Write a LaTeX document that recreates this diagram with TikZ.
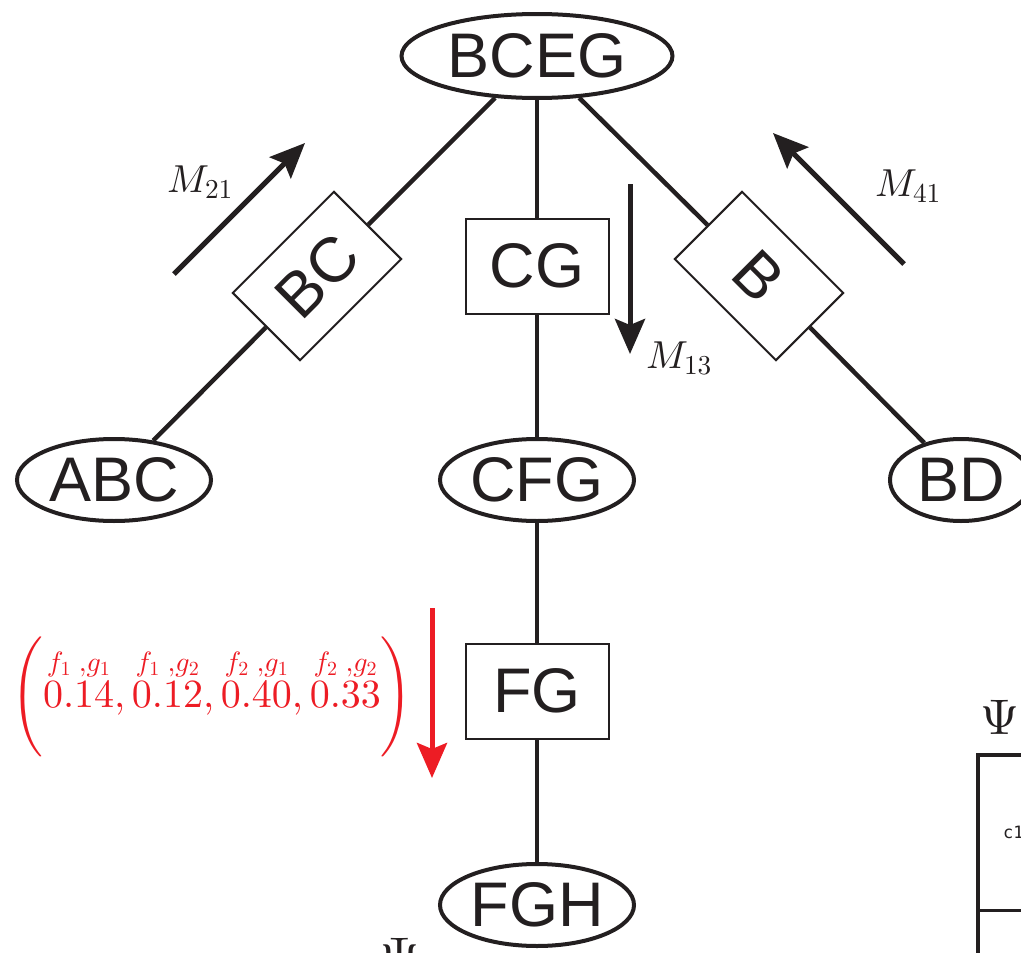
\documentclass[tikz,border=0pt]{standalone}
\usepackage{amsmath}
\usepackage{fontspec}
\DeclareFontShape{OML}{cmm}{m}{it}{<->cmmi10}{}
\DeclareFontShape{OMS}{cmsy}{m}{n}{<->cmsy10}{}
\DeclareFontShape{OMX}{cmex}{m}{n}{<->cmex10}{}
\DeclareFontShape{OT1}{cmr}{m}{n}{<->cmr10}{}
\newfontfamily\hvfont{Liberation Sans}
\newfontfamily\cellfont{DejaVu Sans Mono}
\usetikzlibrary{arrows.meta,shapes.geometric}
\definecolor{ink}{HTML}{231F20}
\definecolor{redink}{HTML}{ED1C24}
\begin{document}
\begin{tikzpicture}[x=1pt,y=-1pt,
  ell/.style={draw=ink, ellipse, line width=4pt, inner sep=0pt, text=ink,
    font={\hvfont\fontsize{63pt}{63pt}\selectfont}},
  sepbox/.style={draw=ink, rectangle, line width=2pt, fill=white, inner sep=0pt,
    minimum width=143pt, minimum height=95pt, text=ink,
    font={\hvfont\fontsize{63pt}{63pt}\selectfont}},
  link/.style={draw=ink, line width=4.5pt},
  msg/.style={draw=ink, line width=5pt, -{Stealth[length=35pt,width=30pt,inset=6pt]}},
  lab/.style={text=ink, inner sep=0pt, font={\fontsize{39pt}{47pt}\selectfont}},
  bigpsi/.style={text=ink, inner sep=0pt, font={\fontsize{50pt}{60pt}\selectfont}}]
\useasboundingbox (0,0) rectangle (1021,953);
\clip (0,0) rectangle (1021,953);

% cliques
\node[ell, minimum width=271pt, minimum height=84pt] (BCEG) at (537,56) {BCEG};
\node[ell, minimum width=194pt, minimum height=82pt] (ABC) at (114,480) {ABC};
\node[ell, minimum width=194pt, minimum height=82pt] (CFG) at (537,480) {CFG};
\node[ell, minimum width=142pt, minimum height=82pt] (BD) at (961,480) {BD};
\node[ell, minimum width=194pt, minimum height=82pt] (FGH) at (537,905) {FGH};

% separators
\node[sepbox, rotate=45] (BC) at (317,276) {BC};
\node[sepbox] (CG) at (537,266) {CG};
\node[sepbox, rotate=-45] (B) at (759,276) {B};
\node[sepbox] (FG) at (537,691) {FG};

% links
\draw[link] (BCEG) -- (BC);
\draw[link] (BC) -- (ABC);
\draw[link] (BCEG) -- (CG);
\draw[link] (CG) -- (CFG);
\draw[link] (BCEG) -- (B);
\draw[link] (B) -- (BD);
\draw[link] (CFG) -- (FG);
\draw[link] (FG) -- (FGH);

% messages
\coordinate (m21s) at (174,274);
\coordinate (m21e) at (305,143);
\draw[msg] (m21s) -- (m21e);
\node[lab] (M21) at (200,182) {$M_{21}$};

\coordinate (m13s) at (630,184);
\coordinate (m13e) at (630,354);
\draw[msg] (m13s) -- (m13e);
\node[lab] (M13) at (679,358) {$M_{13}$};

\coordinate (m41s) at (904,264);
\coordinate (m41e) at (773,133);
\draw[msg] (m41s) -- (m41e);
\node[lab] (M41) at (908,186) {$M_{41}$};

\coordinate (rs) at (432,608);
\coordinate (re) at (432,778);
\draw[msg, draw=redink] (rs) -- (re);
\node[text=redink, inner sep=0pt, font={\fontsize{40pt}{48pt}\selectfont}] (vals) at (212,697)
  {$\Bigg(\overset{f_1\;,g_1}{0.14},\overset{f_1\;,g_2}{0.12},\overset{f_2\;,g_1}{0.40},\overset{f_2\;,g_2}{0.33}\Bigg)$};

% Psi table (cut off)
\node[bigpsi] (psiA) at (1000,717) {$\Psi$};
\node[bigpsi] (psiB) at (400,955) {$\Psi$};
\draw[ink, line width=4pt] (978,1000) -- (978,755) -- (1100,755);
\draw[ink, line width=3pt] (978,910) -- (1100,910);
\node[text=ink, anchor=west, inner sep=0pt, font={\cellfont\fontsize{17pt}{17pt}\selectfont}] (c1) at (1003,832) {c1};
\end{tikzpicture}
\end{document}
